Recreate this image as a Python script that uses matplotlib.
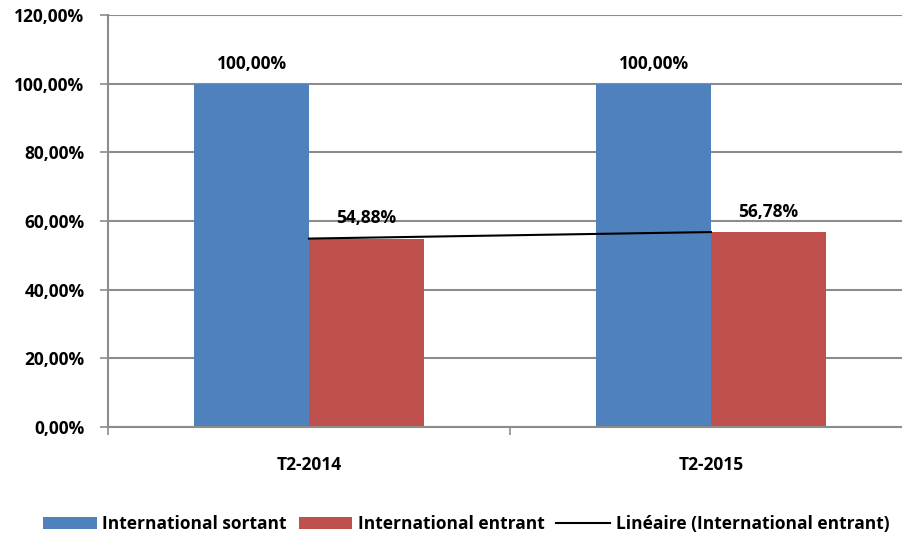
import matplotlib
matplotlib.use("Agg")
from matplotlib import pyplot as plt
from matplotlib.ticker import FuncFormatter

plt.rcParams['font.family'] = ['Open Sans', 'DejaVu Sans']
plt.rcParams['font.weight'] = 'bold'

categories = ["T2-2014", "T2-2015"]
sortant = [100.00, 100.00]
entrant = [54.88, 56.78]
series_names = ["International sortant", "International entrant",
                "Linéaire (International entrant)"]

BLUE = "#4f81bd"
RED = "#c0504d"
GRID = "#8c8c8c"
FS = 12.5

fig = plt.figure(figsize=(9.02, 5.41), dpi=100)
ax = fig.add_axes([108 / 902, 1 - 427 / 541, 804 / 902, 412 / 541])

x = list(range(len(categories)))
w = 0.286
b1 = ax.bar([i - w / 2 for i in x], sortant, w, color=BLUE, label=series_names[0], zorder=2)
b2 = ax.bar([i + w / 2 for i in x], entrant, w, color=RED, label=series_names[1], zorder=2)
ln, = ax.plot(x, entrant, color="black", lw=1.5, label=series_names[2], zorder=3)

def fr(v):
    return f"{v:.2f}".replace(".", ",") + "%"

for bars, vals in ((b1, sortant), (b2, entrant)):
    for rect, v in zip(bars, vals):
        ax.annotate(fr(v), (rect.get_x() + rect.get_width() / 2, v),
                    xytext=(0, 8), textcoords="offset points",
                    ha="center", va="bottom", fontsize=FS, fontweight="bold")

ax.set_ylim(0, 120)
ax.set_xlim(-0.5, 1.5)
ax.set_yticks(range(0, 121, 20))
ax.yaxis.set_major_formatter(FuncFormatter(lambda v, p: fr(v)))
ax.grid(axis="y", color=GRID, lw=1.5, zorder=0)

ax.set_xticks([-0.5, 0.5, 1.5])
ax.set_xticklabels([])
ax.set_xticks(x, minor=True)
ax.set_xticklabels(categories, minor=True)
ax.tick_params(axis="x", which="minor", length=0, pad=21, labelsize=FS)
ax.tick_params(axis="x", which="major", length=6, color=GRID, width=1.2)
ax.tick_params(axis="y", length=6, color=GRID, width=1.2, labelsize=FS, pad=11)
for lbl in ax.get_xticklabels(minor=True) + ax.get_yticklabels():
    lbl.set_fontweight("bold")

for s in ("top", "right"):
    ax.spines[s].set_visible(False)
for s in ("left", "bottom"):
    ax.spines[s].set_color(GRID)
    ax.spines[s].set_linewidth(1.5)

fig.legend([b1, b2, ln], series_names, loc="center",
           bbox_to_anchor=(466 / 902, 1 - 524 / 541), ncol=3,
           frameon=False, prop={"weight": "bold", "size": FS},
           handlelength=3.1, handletextpad=0.3, columnspacing=0.7)

fig.savefig("out.png", dpi=100)
